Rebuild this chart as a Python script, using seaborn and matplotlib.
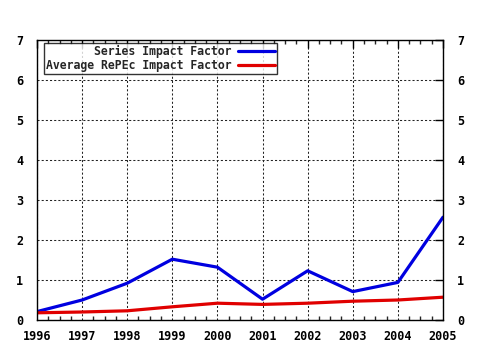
import matplotlib
matplotlib.use("Agg")
import matplotlib.pyplot as plt
import seaborn as sns
import pandas as pd
from matplotlib.ticker import MultipleLocator

years = [1996, 1997, 1998, 1999, 2000, 2001, 2002, 2003, 2004, 2005]
series_if = [0.21, 0.50, 0.92, 1.52, 1.32, 0.52, 1.23, 0.71, 0.94, 2.57]
average_if = [0.18, 0.20, 0.23, 0.33, 0.42, 0.39, 0.42, 0.47, 0.50, 0.57]
labels = ["Series Impact Factor", "Average RePEc Impact Factor"]
colors = ["#0000e0", "#e00000"]

sns.set_style("white")
plt.rcParams["font.family"] = ["DejaVu Sans Mono", "DejaVu Sans"]
plt.rcParams["font.weight"] = "bold"

df = pd.DataFrame({
    "year": years * 2,
    "value": series_if + average_if,
    "series": [labels[0]] * len(years) + [labels[1]] * len(years),
})

fig = plt.figure(figsize=(4.8, 3.5), dpi=100)
ax = fig.add_axes([37 / 480, 30 / 350, 406 / 480, 280 / 350])
sns.lineplot(data=df, x="year", y="value", hue="series", palette=colors,
             linewidth=2.3, ax=ax, legend=True)

ax.set_xlim(1996, 2005)
ax.set_ylim(0, 7)
ax.xaxis.set_major_locator(MultipleLocator(1))
ax.xaxis.set_minor_locator(MultipleLocator(0.25))
ax.yaxis.set_major_locator(MultipleLocator(1))
ax.set_xlabel("")
ax.set_ylabel("")
ax.grid(True, which="major", color="#222222", linestyle=(0, (2, 2)), linewidth=0.75)
for s in ax.spines.values():
    s.set_color("black")
    s.set_linewidth(1)
ax.tick_params(axis="both", which="major", direction="in", length=6, width=1,
               top=True, right=True, labelright=True, labelsize=8.5, colors="black")
ax.tick_params(axis="x", which="major", pad=7)
ax.tick_params(axis="y", which="major", pad=10)
ax.tick_params(axis="x", which="minor", direction="in", length=3, width=1, top=True, bottom=True)
for lab in ax.get_xticklabels() + ax.get_yticklabels():
    lab.set_fontweight("bold")
for lab in ax.yaxis.get_ticklabels(which="major"):
    lab.set_fontweight("bold")

h, l = ax.get_legend_handles_labels()
leg = ax.legend(h, l, loc="upper left", bbox_to_anchor=(0.017, 0.99), borderaxespad=0,
                markerfirst=False, frameon=True, fancybox=False, edgecolor="black",
                prop={"family": "DejaVu Sans Mono", "weight": "bold", "size": 8.3},
                handlelength=3.2, handletextpad=0.6, borderpad=0.15, labelspacing=0.1,
                alignment="right")
leg.get_frame().set_linewidth(1)
for t in leg.get_texts():
    t.set_ha("right")
leg._legend_box.align = "right"

fig.savefig("out.png", dpi=100, facecolor="white")
